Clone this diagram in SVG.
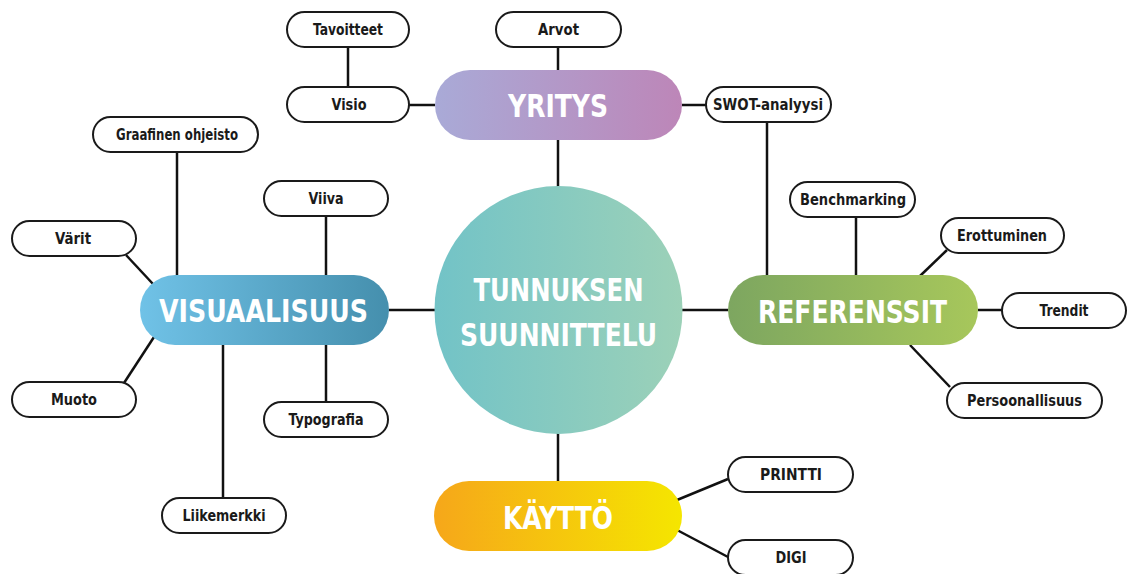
<svg xmlns="http://www.w3.org/2000/svg" width="1130" height="574" viewBox="0 0 1130 574">
<style>
.sn{fill:#fff;stroke:#1a1a1a;stroke-width:2}
.st{font-family:"DejaVu Sans Condensed","DejaVu Sans",sans-serif;font-stretch:condensed;font-weight:bold;font-size:16px;fill:#1a1a1a;text-anchor:middle}
.bt{font-family:"DejaVu Sans Condensed","DejaVu Sans",sans-serif;font-stretch:condensed;font-weight:bold;font-size:32px;fill:#fff;text-anchor:middle}
.ln{stroke:#111;stroke-width:2.5;fill:none}
</style>
<defs>
<linearGradient id="gY" x1="0" x2="1" y1="0" y2="0"><stop offset="0" stop-color="#a9aad7"/><stop offset="1" stop-color="#bd86b8"/></linearGradient>
<linearGradient id="gC" x1="0" x2="1" y1="0" y2="0"><stop offset="0" stop-color="#72c3c7"/><stop offset="1" stop-color="#9cd1b8"/></linearGradient>
<linearGradient id="gV" x1="0" x2="1" y1="0" y2="0"><stop offset="0" stop-color="#70c2e7"/><stop offset="1" stop-color="#458fad"/></linearGradient>
<linearGradient id="gR" x1="0" x2="1" y1="0" y2="0"><stop offset="0" stop-color="#7da660"/><stop offset="1" stop-color="#a7c75b"/></linearGradient>
<linearGradient id="gK" x1="0" x2="1" y1="0" y2="0"><stop offset="0" stop-color="#f6a71a"/><stop offset="1" stop-color="#f5e600"/></linearGradient>
</defs>
<rect width="1130" height="574" fill="#fff"/>
<g id="connectors">
<line class="ln" x1="348" y1="47" x2="348" y2="87"/>
<line class="ln" x1="409" y1="105" x2="435" y2="105"/>
<line class="ln" x1="558" y1="47" x2="558" y2="70"/>
<line class="ln" x1="682" y1="105" x2="706" y2="105"/>
<line class="ln" x1="767" y1="122" x2="767" y2="276"/>
<line class="ln" x1="558" y1="140" x2="558" y2="187"/>
<line class="ln" x1="558" y1="433" x2="558" y2="481"/>
<line class="ln" x1="389" y1="310" x2="435" y2="310"/>
<line class="ln" x1="682" y1="310" x2="728" y2="310"/>
<line class="ln" x1="177" y1="152" x2="177" y2="276"/>
<line class="ln" x1="326" y1="216" x2="326" y2="276"/>
<line class="ln" x1="126" y1="255" x2="153" y2="284"/>
<line class="ln" x1="124" y1="383" x2="154" y2="337"/>
<line class="ln" x1="326" y1="344" x2="326" y2="402"/>
<line class="ln" x1="223" y1="344" x2="223" y2="498"/>
<line class="ln" x1="856" y1="217" x2="856" y2="276"/>
<line class="ln" x1="947" y1="250" x2="920" y2="276"/>
<line class="ln" x1="978" y1="310" x2="1002" y2="310"/>
<line class="ln" x1="910" y1="345" x2="950" y2="387"/>
<line class="ln" x1="677" y1="500" x2="728" y2="479"/>
<line class="ln" x1="677" y1="530" x2="728" y2="557"/>
</g>
<g id="n-center"><circle cx="558.5" cy="310" r="124" fill="url(#gC)"/>
<text class="bt" x="558.5" y="301" font-size="33" textLength="170" lengthAdjust="spacingAndGlyphs">TUNNUKSEN</text>
<text class="bt" x="558.5" y="346" font-size="33" textLength="197" lengthAdjust="spacingAndGlyphs">SUUNNITTELU</text></g>
<g id="n-yritys"><rect x="435" y="70" width="247" height="70" rx="35" fill="url(#gY)"/>
<text class="bt" x="558" y="117" textLength="100" lengthAdjust="spacingAndGlyphs">YRITYS</text></g>
<g id="n-visuaalisuus"><rect x="140" y="275" width="249" height="70" rx="35" fill="url(#gV)"/>
<text class="bt" x="263.5" y="322" textLength="209" lengthAdjust="spacingAndGlyphs">VISUAALISUUS</text></g>
<g id="n-referenssit"><rect x="728" y="275" width="250" height="70" rx="35" fill="url(#gR)"/>
<text class="bt" x="852.5" y="323" textLength="189" lengthAdjust="spacingAndGlyphs">REFERENSSIT</text></g>
<g id="n-kaytto"><rect x="434" y="481" width="248" height="70" rx="35" fill="url(#gK)"/>
<text class="bt" x="558" y="529" textLength="110" lengthAdjust="spacingAndGlyphs">KÄYTTÖ</text></g>
<g id="n-tavoitteet"><rect class="sn" x="287" y="12" width="122" height="35" rx="17.5"/><text class="st" x="348" y="35" textLength="70" lengthAdjust="spacingAndGlyphs">Tavoitteet</text></g>
<g id="n-arvot"><rect class="sn" x="496" y="12" width="125" height="35" rx="17.5"/><text class="st" x="558.5" y="35" textLength="41" lengthAdjust="spacingAndGlyphs">Arvot</text></g>
<g id="n-visio"><rect class="sn" x="287" y="87" width="122" height="35" rx="17.5"/><text class="st" x="349" y="110" textLength="35" lengthAdjust="spacingAndGlyphs">Visio</text></g>
<g id="n-swot"><rect class="sn" x="706" y="87" width="125" height="35" rx="17.5"/><text class="st" x="768" y="110" textLength="110" lengthAdjust="spacingAndGlyphs">SWOT-analyysi</text></g>
<g id="n-graafinen"><rect class="sn" x="93" y="117" width="165" height="35" rx="17.5"/><text class="st" x="177" y="140" textLength="122" lengthAdjust="spacingAndGlyphs">Graafinen ohjeisto</text></g>
<g id="n-viiva"><rect class="sn" x="264" y="181" width="124" height="35" rx="17.5"/><text class="st" x="326" y="204" textLength="35" lengthAdjust="spacingAndGlyphs">Viiva</text></g>
<g id="n-varit"><rect class="sn" x="12" y="221" width="124" height="35" rx="17.5"/><text class="st" x="73" y="244" textLength="36" lengthAdjust="spacingAndGlyphs">Värit</text></g>
<g id="n-muoto"><rect class="sn" x="12" y="382" width="124" height="35" rx="17.5"/><text class="st" x="74" y="405" textLength="46" lengthAdjust="spacingAndGlyphs">Muoto</text></g>
<g id="n-typografia"><rect class="sn" x="264" y="402" width="124" height="35" rx="17.5"/><text class="st" x="326" y="425" textLength="75" lengthAdjust="spacingAndGlyphs">Typografia</text></g>
<g id="n-liikemerkki"><rect class="sn" x="162" y="498" width="124" height="35" rx="17.5"/><text class="st" x="224" y="521" textLength="83" lengthAdjust="spacingAndGlyphs">Liikemerkki</text></g>
<g id="n-benchmarking"><rect class="sn" x="790" y="182" width="125" height="35" rx="17.5"/><text class="st" x="853" y="205" textLength="106" lengthAdjust="spacingAndGlyphs">Benchmarking</text></g>
<g id="n-erottuminen"><rect class="sn" x="941" y="218" width="123" height="35" rx="17.5"/><text class="st" x="1002" y="241" textLength="90" lengthAdjust="spacingAndGlyphs">Erottuminen</text></g>
<g id="n-trendit"><rect class="sn" x="1002" y="293" width="124" height="35" rx="17.5"/><text class="st" x="1064" y="316" textLength="49" lengthAdjust="spacingAndGlyphs">Trendit</text></g>
<g id="n-persoonallisuus"><rect class="sn" x="947" y="383" width="155" height="35" rx="17.5"/><text class="st" x="1024.5" y="406" textLength="115" lengthAdjust="spacingAndGlyphs">Persoonallisuus</text></g>
<g id="n-printti"><rect class="sn" x="728" y="457" width="125" height="35" rx="17.5"/><text class="st" x="791" y="480" textLength="62" lengthAdjust="spacingAndGlyphs">PRINTTI</text></g>
<g id="n-digi"><rect class="sn" x="728" y="540" width="125" height="35" rx="17.5"/><text class="st" x="791" y="563" textLength="31" lengthAdjust="spacingAndGlyphs">DIGI</text></g>
</svg>
